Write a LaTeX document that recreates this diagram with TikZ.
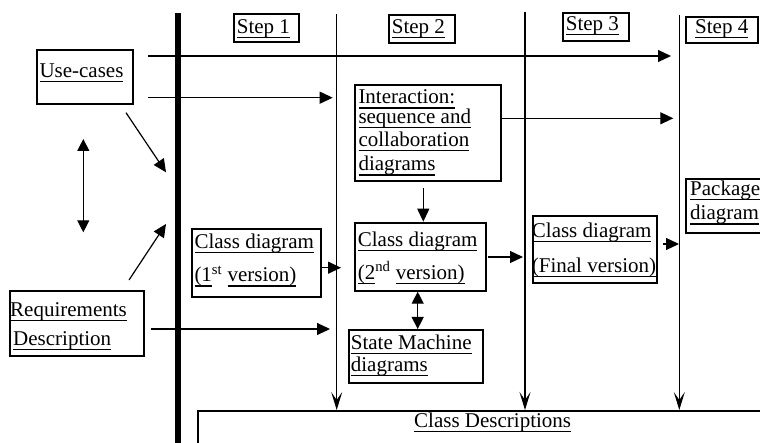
\documentclass[tikz,border=0pt]{standalone}
\usepackage{fontspec}
\setmainfont{Liberation Serif}
\usetikzlibrary{arrows.meta}
\newlength{\ulw}
\newcommand{\undl}[1]{\settowidth{\ulw}{#1}\rlap{\rule[-4.6pt]{\ulw}{1.1pt}}#1}
\newcommand{\fs}{\fontsize{21}{25}\selectfont}
\newcommand{\boxat}[5]{\node[box,anchor=north west,minimum width=#4pt,minimum height=#5pt] (#1) at (#2,#3) {};}
\begin{document}
\begin{tikzpicture}[x=1pt,y=-1pt,
  box/.style={draw,line width=2pt,inner sep=0pt,fill=none},
  lbl/.style={anchor=base west,inner sep=0pt,font=\fs},
  conn/.style={line width=1.2pt},
  harrow/.style={conn,-{Triangle[length=13pt,width=12pt]}},
  dblarrow/.style={conn,{Triangle[length=12pt,width=12pt]}-{Triangle[length=12pt,width=12pt]}},
  vline/.style={conn,-{Stealth[length=18pt,width=11pt,inset=8pt]}},
  thickline/.style={line width=6pt}]
\useasboundingbox (0,0) rectangle (760,443);
\clip (0,0) rectangle (760,443);

% boxes
\boxat{s1}{232.7}{13}{65.3}{28}
\boxat{s2}{387.7}{14.3}{66.3}{28}
\boxat{s3}{562}{11.7}{66.3}{28.3}
\boxat{s4}{685}{16}{71.7}{26.3}
\boxat{uc}{35.7}{48.7}{96}{54}
\boxat{req}{9.3}{290.3}{133.7}{64.7}
\boxat{inter}{354.3}{84.3}{145.4}{95.7}
\boxat{c1}{191}{228.3}{129}{68}
\boxat{c2}{354}{221.7}{130.7}{68}
\boxat{cf}{531.7}{215}{124.3}{67}
\boxat{pkg}{685.3}{177.7}{100}{54}
\boxat{sm}{347.7}{329}{134.3}{52.7}
\boxat{cd}{196.7}{410}{600}{60}

% labels
\node[lbl] (t-s1) at (236.7,33.3) {\undl{Step 1}};
\node[lbl] (t-s2) at (391.7,33.3) {\undl{Step 2}};
\node[lbl] (t-s3) at (565.7,30.7) {\undl{Step 3}};
\node[lbl] (t-s4) at (695,33.3) {\undl{Step 4}};
\node[lbl] (t-uc) at (39.3,77.7) {\undl{Use-cases}};
\node[lbl] (t-in1) at (358.3,104) {\undl{Interaction:}};
\node[lbl] (t-in2) at (358.3,123.5) {\undl{sequence and}};
\node[lbl] (t-in3) at (358.3,146.5) {\undl{collaboration}};
\node[lbl] (t-in4) at (358.3,171) {\undl{diagrams}};
\node[lbl] (t-c11) at (194.3,248.7) {\undl{Class diagram}};
\node[lbl] (t-c12) at (194.3,282) {\undl{(1}\textsuperscript{st} \undl{version)}};
\node[lbl] (t-c21) at (357.7,246.7) {\undl{Class diagram}};
\node[lbl] (t-c22) at (357.7,279.3) {\undl{(2}\textsuperscript{nd} \undl{version)}};
\node[lbl] (t-cf1) at (531.7,237.3) {\undl{Class diagram}};
\node[lbl] (t-cf2) at (531.7,272.3) {\undl{(Final version)}};
\node[lbl] (t-rq1) at (10,316.7) {\undl{Requirements}};
\node[lbl] (t-rq2) at (13,345) {\undl{Description}};
\node[lbl] (t-sm1) at (350.7,349.3) {\undl{State Machine}};
\node[lbl] (t-sm2) at (350.7,371.7) {\undl{diagrams}};
\node[lbl] (t-pk1) at (690,195.7) {\undl{Package}};
\node[lbl] (t-pk2) at (690,220) {\undl{diagram}};
\node[lbl] (t-cd) at (414,427.3) {\undl{Class Descriptions}};

% divider and step lines
\coordinate (thk-t) at (178,13);
\coordinate (thk-b) at (178,450);
\draw[thickline] (thk-t) -- (thk-b);
\coordinate (v1t) at (336.7,14);
\coordinate (v2t) at (525,11.7);
\coordinate (v3t) at (679.3,15);
\draw[vline] (v1t) -- (v1t |- cd.north);
\draw[vline] (v2t) -- (v2t |- cd.north);
\draw[vline] (v3t) -- (v3t |- cd.north);

% free ends
\coordinate (a1s) at (148,56);
\coordinate (a1e) at (671,56);
\coordinate (a2s) at (148,97.7);
\coordinate (a2e) at (332.7,97.7);
\coordinate (a3e) at (673.3,118.3);
\coordinate (a4s) at (126,112.7);
\coordinate (a4e) at (166,172.3);
\coordinate (a5s) at (129,280);
\coordinate (a5e) at (166,224);
\coordinate (d1s) at (83.3,139);
\coordinate (d1e) at (83.3,232.3);
\coordinate (a6s) at (151,329);
\coordinate (a6e) at (330,329);
\coordinate (a7s) at (423.3,188.3);
\coordinate (a8e) at (341,267.7);
\coordinate (a9s) at (488,257);
\coordinate (a9e) at (523,257);
\coordinate (a10s) at (662.7,244);
\coordinate (a10e) at (679,244);
\coordinate (dx) at (417.7,0);

\draw[harrow] (a1s) -- (a1e);
\draw[harrow] (a2s) -- (a2e);
\draw[harrow] (inter.east |- a3e) -- (a3e);
\draw[harrow] (a4s) -- (a4e);
\draw[harrow] (a5s) -- (a5e);
\draw[dblarrow] (d1s) -- (d1e);
\draw[harrow] (a6s) -- (a6e);
\draw[harrow] (a7s) -- (a7s |- c2.north);
\draw[harrow] (c1.east |- a8e) -- (a8e);
\draw[harrow] (a9s) -- (a9e);
\draw[harrow] (a10s) -- (a10e);
\draw[dblarrow] (dx |- c2.south) -- (dx |- sm.north);
\end{tikzpicture}
\end{document}
